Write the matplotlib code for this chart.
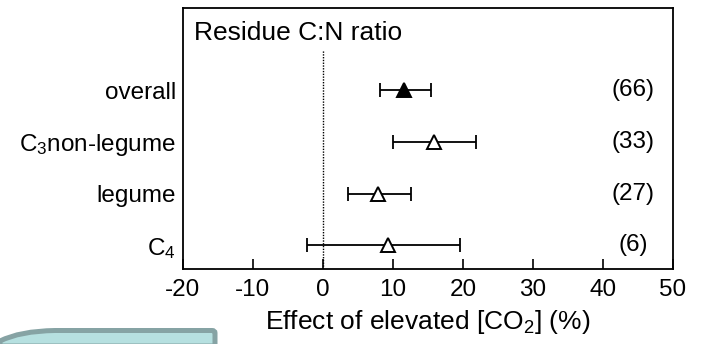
import matplotlib
matplotlib.use("Agg")
import matplotlib.pyplot as plt
from matplotlib.path import Path
from matplotlib.patches import PathPatch

plt.rcParams['font.family'] = ['Liberation Sans', 'DejaVu Sans']
plt.rcParams['mathtext.fontset'] = 'custom'
plt.rcParams['mathtext.rm'] = 'Liberation Sans'
plt.rcParams['mathtext.it'] = 'Liberation Sans'
plt.rcParams['mathtext.default'] = 'regular'

categories = ['overall', 'C$_3$non-legume', 'legume', 'C$_4$']
means = [11.6, 15.8, 7.8, 9.3]
ci_low = [8.1, 10.0, 3.6, -2.3]
ci_high = [15.4, 21.8, 12.6, 19.5]
n_obs = ['(66)', '(33)', '(27)', '(6)']
filled = [True, False, False, False]
xticks = [-20, -10, 0, 10, 20, 30, 40, 50]

W, H = 708, 344
fig = plt.figure(figsize=(W / 100, H / 100), dpi=100)
ax = fig.add_axes([183 / W, (H - 269) / H, (673 - 183) / W, (269 - 8) / H])

fs = 17.5
ypos = [4, 3, 2, 1]
for y, m, lo, hi, f in zip(ypos, means, ci_low, ci_high, filled):
    ax.errorbar([m], [y], xerr=[[m - lo], [hi - m]], fmt='none', ecolor='black',
                elinewidth=1.3, capsize=4.8, capthick=1.3, zorder=2)
    ax.plot([m], [y], marker='^', markersize=9.5, markeredgewidth=1.4,
            markeredgecolor='black', markerfacecolor='black' if f else 'white',
            linestyle='none', zorder=3)

for y, n in zip(ypos, n_obs):
    ax.text(44.3, y, n, ha='center', va='center', fontsize=fs)

ax.plot([0, 0], [0.54, 4.78], color='black', lw=1.0, linestyle=(0, (1, 1)), zorder=1)

ax.text(-18.4, 5.1, 'Residue C:N ratio', ha='left', va='center', fontsize=19)

ax.set_xlim(-20, 50)
ax.set_ylim(0.54, 5.59)
ax.set_xticks(xticks)
ax.set_xticklabels([str(t) for t in xticks], fontsize=fs)
ax.set_yticks(ypos)
ax.set_yticklabels(categories, fontsize=fs)
ax.tick_params(axis='x', direction='in', length=7, width=1.2, pad=7)
ax.tick_params(axis='y', length=0, pad=5)
for s in ax.spines.values():
    s.set_linewidth(1.3)
ax.set_xlabel('Effect of elevated [CO$_2$] (%)', fontsize=19, labelpad=5)

# decorative teal box in bottom-left corner (figure pixel coords)
def px(x, y):
    return (x / W, (H - y) / H)

verts = [px(0, 346), px(0, 341), px(20, 331), px(55, 330.5),
         px(212, 330.5), px(215, 330.5), px(215, 333), px(215, 346), px(0, 346)]
codes = [Path.MOVETO, Path.LINETO, Path.CURVE3, Path.CURVE3,
         Path.LINETO, Path.CURVE3, Path.CURVE3, Path.LINETO, Path.CLOSEPOLY]
box = PathPatch(Path(verts, codes), transform=fig.transFigure, facecolor='#b6e0e0',
                edgecolor='#86a3a4', linewidth=3.6, clip_on=False)
fig.patches.append(box)

fig.savefig('out.png', dpi=100)
